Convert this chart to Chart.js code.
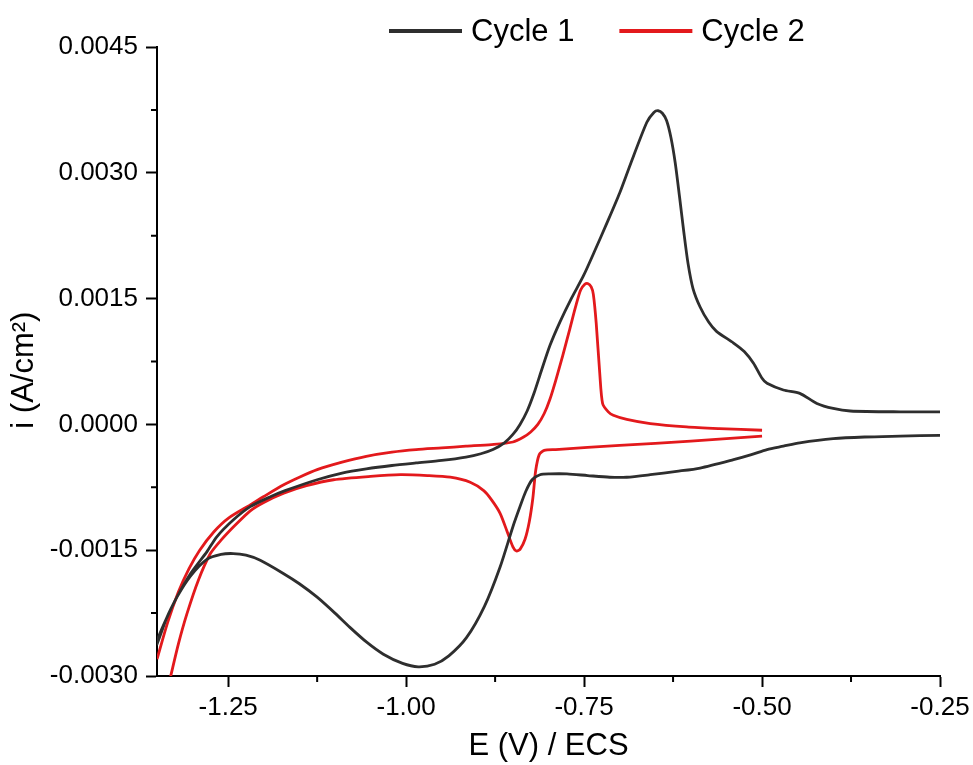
<!DOCTYPE html>
<html>
<head>
<meta charset="utf-8">
<script src="https://cdn.jsdelivr.net/npm/chart.js@4"></script>
<style>
  html, body { margin: 0; padding: 0; background: #fff; }
  #wrap { width: 973px; height: 765px; }
</style>
</head>
<body>
<div id="wrap"><canvas id="cvChart" width="973" height="765"></canvas></div>
<script>
// Cycle 1: cathodic sweep from -0.25 V to -1.35 V, then anodic sweep back
const cycle1E = [
  -0.250, -0.306, -0.356, -0.400, -0.447, -0.470, -0.493, -0.515, -0.540, -0.587,
  -0.620, -0.657, -0.690, -0.714, -0.745, -0.774, -0.798, -0.812, -0.823, -0.832,
  -0.840, -0.850, -0.868, -0.890, -0.915, -0.940, -0.960, -0.983, -1.005, -1.032,
  -1.055, -1.079, -1.100, -1.125, -1.150, -1.172, -1.205, -1.225, -1.243, -1.260,
  -1.280, -1.303, -1.322, -1.336, -1.350,
  -1.350, -1.336, -1.322, -1.303, -1.280, -1.266, -1.243, -1.219, -1.190, -1.170,
  -1.125, -1.090, -1.056, -1.020, -0.986, -0.950, -0.916, -0.895, -0.878, -0.862,
  -0.850, -0.840, -0.830, -0.820, -0.810, -0.798, -0.784, -0.768, -0.751, -0.735,
  -0.718, -0.700, -0.685, -0.662, -0.652, -0.646, -0.640, -0.634, -0.628, -0.622,
  -0.616, -0.610, -0.604, -0.597, -0.587, -0.575, -0.564, -0.540, -0.525, -0.512,
  -0.500, -0.493, -0.470, -0.447, -0.423, -0.400, -0.376, -0.306, -0.250
];
const cycle1I = [
  -0.00013, -0.00014, -0.00015, -0.00017, -0.00022, -0.00026, -0.00030, -0.00036, -0.00042, -0.00052,
  -0.00056, -0.00060, -0.00063, -0.00063, -0.00061, -0.00059, -0.00059, -0.00060, -0.00066, -0.00080,
  -0.00098, -0.00122, -0.00170, -0.00217, -0.00254, -0.00276, -0.00286, -0.00289, -0.00285, -0.00274,
  -0.00260, -0.00242, -0.00225, -0.00206, -0.00190, -0.00178, -0.00162, -0.00156, -0.00154, -0.00155,
  -0.00161, -0.00181, -0.00206, -0.00230, -0.00258,
  -0.00262, -0.00230, -0.00206, -0.00178, -0.00152, -0.00134, -0.00114, -0.00098, -0.00086, -0.00079,
  -0.00066, -0.00058, -0.00053, -0.00049, -0.00046, -0.00043, -0.00039, -0.00035, -0.00030, -0.00022,
  -0.00012, 0.00000, 0.00016, 0.00038, 0.00064, 0.00094, 0.00122, 0.00150, 0.00177, 0.00207,
  0.00240, 0.00276, 0.00310, 0.00360, 0.00372, 0.00374, 0.00371, 0.00362, 0.00342, 0.00312,
  0.00272, 0.00230, 0.00192, 0.00162, 0.00140, 0.00122, 0.00111, 0.00097, 0.00087, 0.00073,
  0.00055, 0.00049, 0.00041, 0.00037, 0.00025, 0.00019, 0.00016, 0.00015, 0.00015
];

// Cycle 2: cathodic sweep from -0.50 V, break where it leaves the plot, anodic sweep back
const cycle2E = [
  -0.500, -0.600, -0.700, -0.790, -0.806, -0.813, -0.818, -0.822, -0.827, -0.833,
  -0.840, -0.845, -0.850, -0.858, -0.868, -0.880, -0.891, -0.910, -0.938, -0.970,
  -1.008, -1.050, -1.102, -1.140, -1.172, -1.200, -1.219, -1.240, -1.260, -1.275,
  -1.292, -1.308, -1.320, -1.331,
  -1.340,
  -1.350, -1.335, -1.320, -1.305, -1.290, -1.270, -1.250, -1.219, -1.200, -1.172,
  -1.150, -1.125, -1.090, -1.056, -1.020, -0.986, -0.950, -0.916, -0.880, -0.850,
  -0.835, -0.825, -0.815, -0.806, -0.798, -0.790, -0.780, -0.770, -0.762, -0.755,
  -0.749, -0.745, -0.740, -0.737, -0.733, -0.728, -0.724, -0.716, -0.709, -0.690,
  -0.657, -0.606, -0.560, -0.500
];
const cycle2I = [
  -0.00014, -0.00020, -0.00025, -0.00030, -0.00031, -0.00036, -0.00055, -0.00088, -0.00116, -0.00137,
  -0.00149, -0.00151, -0.00146, -0.00128, -0.00106, -0.00090, -0.00079, -0.00069, -0.00063, -0.00061,
  -0.00060, -0.00062, -0.00066, -0.00073, -0.00082, -0.00093, -0.00103, -0.00120, -0.00138, -0.00154,
  -0.00186, -0.00226, -0.00262, -0.00301,
  null,
  -0.00280, -0.00236, -0.00200, -0.00172, -0.00150, -0.00128, -0.00112, -0.00096, -0.00086, -0.00072,
  -0.00063, -0.00054, -0.00045, -0.00038, -0.00033, -0.00030, -0.00028, -0.00026, -0.00024, -0.00021,
  -0.00015, -0.00009, 0.00000, 0.00013, 0.00030, 0.00052, 0.00082, 0.00114, 0.00140, 0.00160,
  0.00167, 0.00168, 0.00164, 0.00155, 0.00121, 0.00061, 0.00025, 0.00015, 0.00011, 0.00006,
  0.00001, -0.00003, -0.00005, -0.00007
];

const seriesNames = ['Cycle 1', 'Cycle 2'];
const seriesColors = ['#2e2e2e', '#e3191c'];

const xTicks = [-1.25, -1.00, -0.75, -0.50, -0.25];
const xMinorTicks = [-1.125, -0.875, -0.625, -0.375];
const yTicks = [-0.0030, -0.0015, 0.0000, 0.0015, 0.0030, 0.0045];
const yMinorTicks = [-0.00225, -0.00075, 0.00075, 0.00225, 0.00375];

const FONT = "'Liberation Sans', Arial, sans-serif";

const toPoints = (xs, ys) => xs.map((x, k) => ({ x: x, y: ys[k] }));

// minor ticks + a hand placed legend above the plot
const extrasPlugin = {
  id: 'extras',
  afterDraw(chart) {
    const { ctx, chartArea, scales } = chart;
    ctx.save();
    ctx.strokeStyle = '#000';
    ctx.lineWidth = 2;
    ctx.beginPath();
    xMinorTicks.forEach(v => {
      const px = scales.x.getPixelForValue(v);
      ctx.moveTo(px, chartArea.bottom);
      ctx.lineTo(px, chartArea.bottom + 6);
    });
    yMinorTicks.forEach(v => {
      const py = scales.y.getPixelForValue(v);
      ctx.moveTo(chartArea.left, py);
      ctx.lineTo(chartArea.left - 6, py);
    });
    ctx.stroke();

    ctx.font = '31px ' + FONT;
    ctx.textBaseline = 'middle';
    ctx.fillStyle = '#000';
    let cur = 389;
    const ly = 31;
    chart.data.datasets.forEach(ds => {
      ctx.strokeStyle = ds.borderColor;
      ctx.lineWidth = 4;
      ctx.beginPath();
      ctx.moveTo(cur, ly);
      ctx.lineTo(cur + 73, ly);
      ctx.stroke();
      ctx.fillText(ds.label, cur + 82, ly + 1);
      cur += 82 + ctx.measureText(ds.label).width + 45;
    });
    ctx.restore();
  }
};

new Chart(document.getElementById('cvChart'), {
  type: 'line',
  data: {
    datasets: [
      {
        label: seriesNames[0],
        data: toPoints(cycle1E, cycle1I),
        borderColor: seriesColors[0],
        backgroundColor: seriesColors[0],
        borderWidth: 2.8,
        pointRadius: 0,
        tension: 0.25,
        fill: false
      },
      {
        label: seriesNames[1],
        data: toPoints(cycle2E, cycle2I),
        borderColor: seriesColors[1],
        backgroundColor: seriesColors[1],
        borderWidth: 2.8,
        pointRadius: 0,
        tension: 0.25,
        fill: false,
        spanGaps: false
      }
    ]
  },
  options: {
    responsive: false,
    animation: false,
    devicePixelRatio: 1,
    layout: { padding: { top: 47, right: 33, bottom: 0, left: 0 } },
    plugins: {
      legend: { display: false },
      tooltip: { enabled: false }
    },
    scales: {
      x: {
        type: 'linear',
        min: -1.35,
        max: -0.25,
        afterBuildTicks: s => { s.ticks = xTicks.map(v => ({ value: v })); },
        afterFit: s => { s.height = 89; s.paddingLeft = 0; s.paddingRight = 0; },
        border: { display: true, color: '#000', width: 2 },
        grid: { display: true, drawOnChartArea: false, drawTicks: true, tickLength: 11, tickColor: '#000', tickWidth: 2 },
        ticks: {
          autoSkip: false,
          maxRotation: 0,
          padding: 5,
          color: '#000',
          font: { family: FONT, size: 26 },
          callback: v => v.toFixed(2)
        },
        title: {
          display: true,
          text: 'E (V) / ECS',
          color: '#000',
          font: { family: FONT, size: 31 },
          padding: { top: 0, bottom: 0 }
        }
      },
      y: {
        type: 'linear',
        min: -0.003,
        max: 0.0045,
        afterBuildTicks: s => { s.ticks = yTicks.map(v => ({ value: v })); },
        afterFit: s => { s.width = 157; s.paddingTop = 0; s.paddingBottom = 0; },
        border: { display: true, color: '#000', width: 2 },
        grid: { display: true, drawOnChartArea: false, drawTicks: true, tickLength: 11, tickColor: '#000', tickWidth: 2 },
        ticks: {
          autoSkip: false,
          padding: 8,
          color: '#000',
          font: { family: FONT, size: 26 },
          callback: v => v.toFixed(4)
        },
        title: {
          display: true,
          // trailing spaces nudge the rotated title down a little, like the original
          text: 'i (A/cm²)  ',
          color: '#000',
          font: { family: FONT, size: 31 },
          padding: { top: 6, bottom: 0 }
        }
      }
    }
  },
  plugins: [extrasPlugin]
});
</script>
</body>
</html>
